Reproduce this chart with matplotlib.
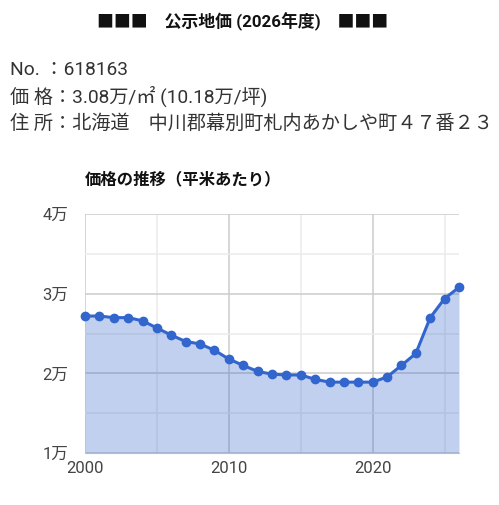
import numpy as np
import matplotlib.pyplot as plt
from matplotlib.ticker import FuncFormatter, MultipleLocator

plt.rcParams['font.family'] = ['Roboto', 'Noto Sans CJK JP', 'DejaVu Sans']

# 公示地価の推移 (円/平米)
years = list(range(2000, 2027))
prices = [27200, 27200, 27000, 27000, 26600, 25700, 24800, 24000, 23700, 22900,
          21800, 21000, 20250, 19900, 19800, 19800, 19250, 18900, 18900, 18900,
          18900, 19550, 21000, 22500, 27000, 29400, 30800]
y_ticks = [10000, 20000, 30000, 40000]
x_ticks = [2000, 2010, 2020]

title = "■■■　公示地価 (2026年度)　■■■"
info_lines = ["No. ：618163",
              "価 格：3.08万/㎡ (10.18万/坪)",
              "住 所：北海道　中川郡幕別町札内あかしや町４７番２３"]
chart_title = "価格の推移（平米あたり）"

LINE = '#3366cc'


def main():
    fig = plt.figure(figsize=(4.99, 5.05), dpi=100)

    fig.text(0.487, 0.957, title, ha='center', va='center',
             fontsize=12.2, fontweight='bold', color='#111111')
    for i, line in enumerate(info_lines):
        fig.text(0.02, 0.862 - i * 0.0535, line, ha='left', va='center',
                 fontsize=13.8, color='#333333')
    fig.text(0.170, 0.645, chart_title, ha='left', va='center',
             fontsize=11.8, fontweight='bold', color='#111111')

    ax = fig.add_axes([0.1703, 0.103, 0.7495, 0.473])
    ax.fill_between(years, prices, 10000, color=LINE, alpha=0.3, linewidth=0, zorder=1)
    ax.plot(years, prices, color=LINE, linewidth=2.2, marker='o', markersize=6,
            zorder=3, clip_on=False)

    ax.set_xlim(2000, 2026)
    ax.set_ylim(10000, 40000)
    ax.set_xticks(x_ticks)
    ax.set_yticks(y_ticks)
    ax.xaxis.set_minor_locator(MultipleLocator(5))
    ax.yaxis.set_minor_locator(MultipleLocator(5000))
    ax.yaxis.set_major_formatter(FuncFormatter(lambda v, p: f"{int(v // 10000)}万"))

    ax.grid(which='major', color='#cccccc', linewidth=1.1, zorder=0)
    ax.grid(which='minor', color='#ebebeb', linewidth=1.1, zorder=0)
    ax.set_axisbelow(True)

    for s in ['top', 'right', 'left']:
        ax.spines[s].set_visible(False)
    ax.spines['bottom'].set_color('#cccccc')
    ax.spines['bottom'].set_zorder(0)
    ax.tick_params(which='both', length=0)
    ax.tick_params(axis='y', pad=12, labelsize=12, labelcolor='#444444')
    ax.tick_params(axis='x', pad=6, labelsize=12, labelcolor='#444444')

    fig.savefig('out.png', dpi=100)


if __name__ == "__main__":
    main()
